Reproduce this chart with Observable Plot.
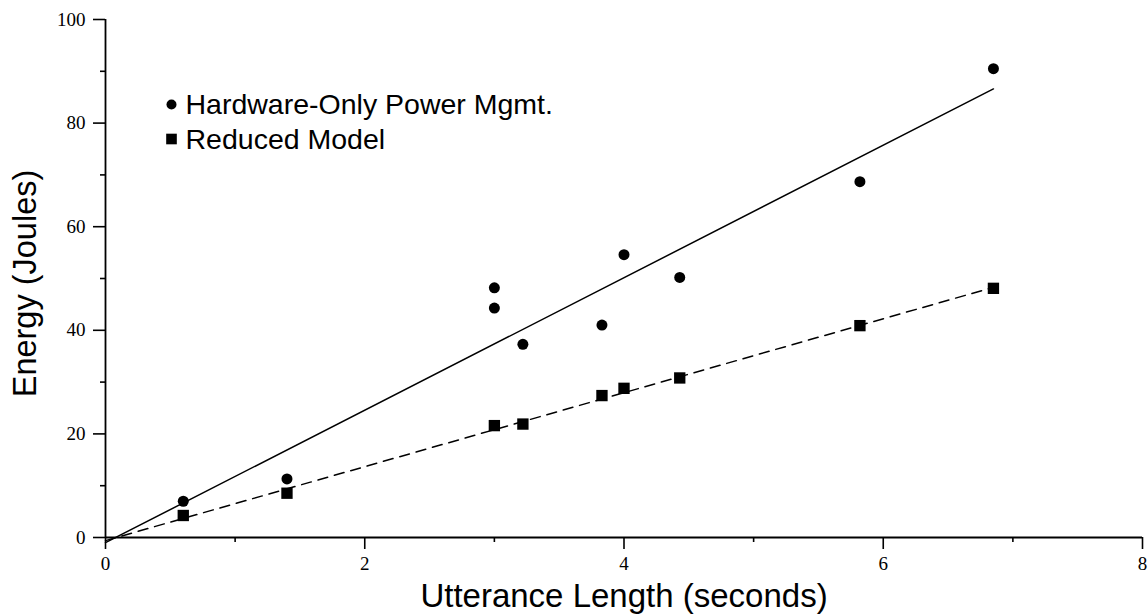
<!DOCTYPE html>
<html>
<head>
<meta charset="utf-8">
<script src="https://cdn.jsdelivr.net/npm/d3@7"></script>
<script src="https://cdn.jsdelivr.net/npm/@observablehq/plot@0.6"></script>
<style>
  html, body { margin: 0; padding: 0; background: #fff; }
  #chart svg { display: block; }
</style>
</head>
<body>
<div id="chart"></div>
<script>
// Hardware-only power management (circles)
const hwLength = [0.6, 1.4, 3.0, 3.0, 3.22, 3.83, 4.0, 4.43, 5.82, 6.85];
const hwEnergy = [7.0, 11.3, 48.2, 44.3, 37.3, 41.0, 54.6, 50.2, 68.7, 90.5];
// Reduced model (squares)
const rmLength = [0.6, 1.4, 3.0, 3.22, 3.83, 4.0, 4.43, 5.82, 6.85];
const rmEnergy = [4.25, 8.55, 21.6, 21.9, 27.4, 28.8, 30.8, 40.9, 48.1];
// Fit lines (endpoints)
const fitLength = [0, 6.85];
const hwFit = [-1.0, 86.6];
const rmFit = [-0.6, 48.3];
// Ticks and labels
const xMajor = [0, 2, 4, 6, 8];
const xMinor = [1, 3, 5, 7];
const yMajor = [0, 20, 40, 60, 80, 100];
const yMinor = [10, 30, 50, 70, 90];
const legendLabels = ["Hardware-Only Power Mgmt.", "Reduced Model"];
const xTitle = "Utterance Length (seconds)";
const yTitle = "Energy (Joules)";

const hw = hwLength.map((x, i) => ({x, y: hwEnergy[i]}));
const rm = rmLength.map((x, i) => ({x, y: rmEnergy[i]}));
const hwLine = fitLength.map((x, i) => ({x, y: hwFit[i]}));
const rmLine = fitLength.map((x, i) => ({x, y: rmFit[i]}));

const serif = "'Liberation Serif', 'Times New Roman', serif";
const sans = "'Liberation Sans', Arial, sans-serif";

const chart = Plot.plot({
  width: 1148,
  height: 616,
  marginLeft: 105,
  marginRight: 6,
  marginTop: 19,
  marginBottom: 79,
  style: {background: "#fff", color: "#000", overflow: "visible", fontFamily: serif, fontSize: "19px"},
  x: {domain: [0, 8]},
  y: {domain: [0, 100]},
  marks: [
    Plot.axisX({ticks: xMajor, tickSize: 12, tickPadding: 7, fontSize: 19, fontFamily: serif, fill: "#000", strokeWidth: 1.6, label: null}),
    Plot.axisX({ticks: xMinor, tickSize: 5, tickFormat: () => "", strokeWidth: 1.6, label: null}),
    Plot.axisY({ticks: yMajor, tickSize: 12, tickPadding: 8, fontSize: 19, fontFamily: serif, fill: "#000", strokeWidth: 1.6, label: null}),
    Plot.axisY({ticks: yMinor, tickSize: 5, tickFormat: () => "", strokeWidth: 1.6, label: null}),
    Plot.ruleY([0], {stroke: "#000", strokeWidth: 1.8}),
    Plot.ruleX([0], {stroke: "#000", strokeWidth: 1.8}),
    Plot.line(hwLine, {x: "x", y: "y", stroke: "#000", strokeWidth: 1.5}),
    Plot.line(rmLine, {x: "x", y: "y", stroke: "#000", strokeWidth: 1.5, strokeDasharray: "10,7"}),
    Plot.dot(hw, {x: "x", y: "y", r: 5.5, fill: "#000", stroke: null}),
    Plot.dot(rm, {x: "x", y: "y", r: 6.4, symbol: "square", fill: "#000", stroke: null}),
    // legend
    Plot.dot([legendLabels[0]], {frameAnchor: "top-left", dx: 66, dy: 85, r: 5, fill: "#000", stroke: null}),
    Plot.dot([legendLabels[1]], {frameAnchor: "top-left", dx: 66, dy: 119.5, r: 6, symbol: "square", fill: "#000", stroke: null}),
    Plot.text([legendLabels[0]], {text: d => d, frameAnchor: "top-left", dx: 80, dy: 85.3, textAnchor: "start", lineAnchor: "middle", fontSize: 28.5, fontFamily: sans, fill: "#000"}),
    Plot.text([legendLabels[1]], {text: d => d, frameAnchor: "top-left", dx: 80, dy: 120.3, textAnchor: "start", lineAnchor: "middle", fontSize: 28.5, fontFamily: sans, fill: "#000"}),
    // axis titles
    Plot.text([xTitle], {text: d => d, frameAnchor: "bottom", dy: 46, textAnchor: "middle", lineAnchor: "top", fontSize: 33, fontFamily: sans, fill: "#000"}),
    Plot.text([yTitle], {text: d => d, frameAnchor: "left", dx: -80, dy: 5, rotate: -90, textAnchor: "middle", lineAnchor: "middle", fontSize: 32.5, fontFamily: sans, fill: "#000"})
  ]
});
document.getElementById("chart").appendChild(chart);
</script>
</body>
</html>
